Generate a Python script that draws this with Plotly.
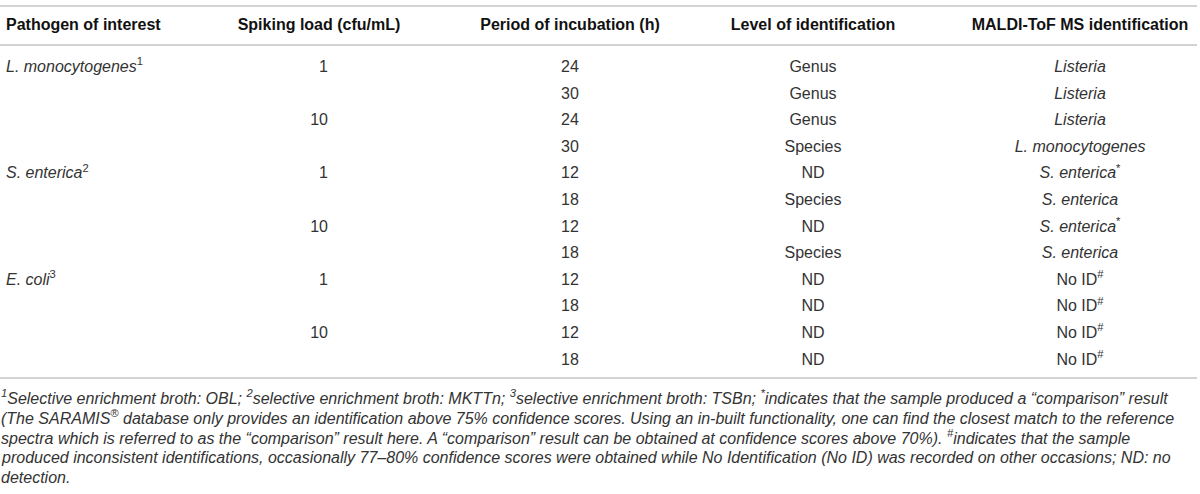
#!/usr/bin/env python
# -*- coding: utf-8 -*-

import plotly.graph_objects as go

# Table content
headers = ["Pathogen of interest", "Spiking load (cfu/mL)", "Period of incubation (h)",
           "Level of identification", "MALDI-ToF MS identification"]

pathogen = ["L. monocytogenes", "", "", "", "S. enterica", "", "", "", "E. coli", "", "", ""]
pathogen_note = ["1", "", "", "", "2", "", "", "", "3", "", "", ""]
spiking_load = ["1", "", "10", "", "1", "", "10", "", "1", "", "10", ""]
incubation_h = [24, 30, 24, 30, 12, 18, 12, 18, 12, 18, 12, 18]
id_level = ["Genus", "Genus", "Genus", "Species", "ND", "Species", "ND", "Species",
            "ND", "ND", "ND", "ND"]
maldi_id = ["Listeria", "Listeria", "Listeria", "L. monocytogenes", "S. enterica",
            "S. enterica", "S. enterica", "S. enterica", "No ID", "No ID", "No ID", "No ID"]
maldi_note = ["", "", "", "", "*", "", "*", "", "#", "#", "#", "#"]

footnote_lines = [
    "<sup>1</sup>Selective enrichment broth: OBL; <sup>2</sup>selective enrichment broth: MKTTn; "
    "<sup>3</sup>selective enrichment broth: TSBn; <sup>*</sup>indicates that the sample produced a \u201ccomparison\u201d result",
    "(The SARAMIS<sup>\u00ae</sup> database only provides an identification above 75% confidence scores. "
    "Using an in-built functionality, one can find the closest match to the reference",
    "spectra which is referred to as the \u201ccomparison\u201d result here. A \u201ccomparison\u201d result "
    "can be obtained at confidence scores above 70%). <sup>#</sup>indicates that the sample",
    "produced inconsistent identifications, occasionally 77\u201380% confidence scores were obtained "
    "while No Identification (No ID) was recorded on other occasions; ND: no",
    "detection.",
]

# Layout constants (pixel units, y grows downward)
W, H = 1200, 494
FONT = "Liberation Sans, Arial, Helvetica, sans-serif"
TEXT_COLOR = "#333333"
HEAD_COLOR = "#111111"
LINE_COLOR = "#d3d3d3"
FS = 16
header_y = 26
row_y0, row_pitch = 68, 26.6
top_line_y, head_line_y, foot_line_y = 6, 45, 378
foot_y0, foot_pitch = 397, 20

head_x = [6, 319, 570, 813, 1080]
head_pos = ["middle right", "middle center", "middle center", "middle center", "middle center"]
col_x = [6, 328, 570, 813, 1080]
col_pos = ["middle right", "middle left", "middle center", "middle center", "middle center"]

rows_y = [row_y0 + i * row_pitch for i in range(len(incubation_h))]


def fmt_taxon(name, note, italic=True):
    if not name:
        return ""
    s = f"<i>{name}</i>" if italic else name
    if note:
        s += f"<sup>{note}</sup>"
    return s


col_text = [
    [fmt_taxon(p, n) for p, n in zip(pathogen, pathogen_note)],
    spiking_load,
    [str(v) for v in incubation_h],
    id_level,
    [fmt_taxon(m, n, italic=(m != "No ID")) for m, n in zip(maldi_id, maldi_note)],
]

fig = go.Figure()

# header row
for x, pos, h in zip(head_x, head_pos, headers):
    fig.add_trace(go.Scatter(
        x=[x], y=[header_y], mode="text", text=[f"<b>{h}</b>"],
        textposition=pos, hoverinfo="skip", showlegend=False,
        textfont=dict(family=FONT, size=FS, color=HEAD_COLOR),
    ))

# body columns (blank cells are skipped)
for x, pos, vals in zip(col_x, col_pos, col_text):
    ys = [y for y, v in zip(rows_y, vals) if v]
    txt = [v for v in vals if v]
    fig.add_trace(go.Scatter(
        x=[x] * len(txt), y=ys, mode="text", text=txt,
        textposition=pos, hoverinfo="skip", showlegend=False,
        textfont=dict(family=FONT, size=FS, color=TEXT_COLOR),
    ))

# horizontal rules
for y in (top_line_y, head_line_y, foot_line_y):
    fig.add_shape(type="line", x0=0, x1=1197, y0=y, y1=y, xref="x", yref="y",
                  line=dict(color=LINE_COLOR, width=2))

# footnote
for i, line in enumerate(footnote_lines):
    fig.add_annotation(
        x=0, y=foot_y0 + i * foot_pitch, xref="x", yref="y",
        text=f"<i>{line}</i>", showarrow=False, xanchor="left", yanchor="middle",
        align="left", borderpad=0, font=dict(family=FONT, size=FS, color=TEXT_COLOR),
    )

fig.update_layout(
    width=W, height=H,
    margin=dict(l=0, r=0, t=0, b=0),
    paper_bgcolor="white", plot_bgcolor="white",
    xaxis=dict(range=[0, W], visible=False, fixedrange=True),
    yaxis=dict(range=[H, 0], visible=False, fixedrange=True),
)

# drop the default 8px body margin so the figure sits at the page origin
fig.write_html("out.html", config={"displayModeBar": False},
               post_script="document.body.style.margin='0px';")
